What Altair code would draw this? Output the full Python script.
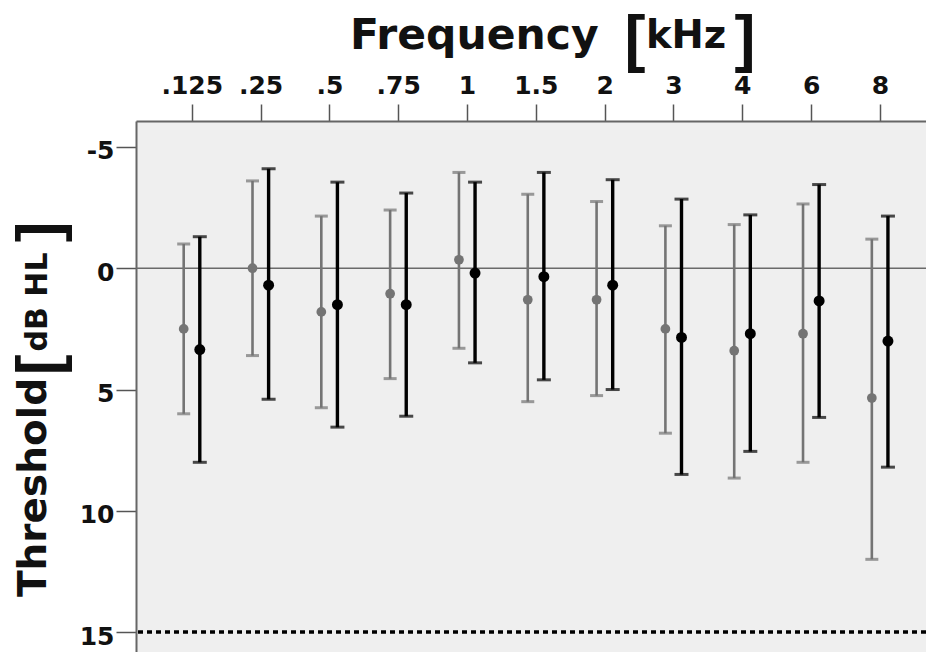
import json

import altair as alt
import pandas as pd

# Test frequencies (kHz) as printed on the axis
freq_labels = [".125", ".25", ".5", ".75", "1", "1.5", "2", "3", "4", "6", "8"]

# Group A (grey): mean threshold and error-bar limits, dB HL
group_a_mean = [2.5, 0.0, 1.8, 1.05, -0.35, 1.3, 1.3, 2.5, 3.4, 2.7, 5.35]
group_a_low = [-1.0, -3.6, -2.15, -2.4, -3.95, -3.05, -2.75, -1.75, -1.8, -2.65, -1.2]
group_a_high = [6.0, 3.6, 5.75, 4.55, 3.3, 5.5, 5.25, 6.8, 8.65, 8.0, 12.0]

# Group B (black)
group_b_mean = [3.35, 0.7, 1.5, 1.5, 0.2, 0.35, 0.7, 2.85, 2.7, 1.35, 3.0]
group_b_low = [-1.3, -4.1, -3.55, -3.1, -3.55, -3.95, -3.65, -2.85, -2.2, -3.45, -2.15]
group_b_high = [8.0, 5.4, 6.55, 6.1, 3.9, 4.6, 5.0, 8.5, 7.55, 6.15, 8.2]

# Reference lines
zero_line = [0]
limit_line = [15]

FONT = "DejaVu Sans"
AXIS_GREY = "#666666"

x_scale = alt.Scale(domain=[-0.81, 10.67], nice=False, zero=False)
y_scale = alt.Scale(domain=[-6.07, 15.82], nice=False, zero=False, reverse=True)

x_axis = alt.Axis(
    orient="top", values=list(range(len(freq_labels))),
    labelExpr=json.dumps(freq_labels) + "[datum.value]",
    title=None, grid=False, tickSize=17, tickWidth=1.5, tickColor="#555555",
    domainColor=AXIS_GREY, domainWidth=2, labelFont=FONT, labelFontWeight="bold",
    labelFontSize=25, labelColor="#111111", labelBaseline="alphabetic",
    labelPadding=11, labelFlush=False,
)
y_axis = alt.Axis(
    orient="left", values=[-5, 0, 5, 10, 15], labelExpr="'' + datum.value",
    title=None, grid=False,
    tickSize=20, tickWidth=1.5, tickColor="#555555", domainColor=AXIS_GREY,
    domainWidth=2, labelFont=FONT, labelFontWeight="bold", labelFontSize=25,
    labelColor="#111111", labelBaseline="alphabetic", labelOffset=12,
    labelPadding=2, labelFlush=False,
)


def group_layers(mean, low, high, shift, color, bar_width, cap_width, dot_size):
    """Error bar, caps and mean marker for one group, nudged sideways by `shift`."""
    data = pd.DataFrame({"idx": list(range(len(freq_labels))),
                         "mean": mean, "lo": low, "hi": high})
    base = alt.Chart(data).transform_calculate(xpos=f"datum.idx + ({shift})")
    x_enc = alt.X("xpos:Q", scale=x_scale, axis=x_axis)
    bar = base.mark_rule(color=color, strokeWidth=bar_width).encode(
        x=x_enc, y=alt.Y("lo:Q", scale=y_scale, axis=y_axis), y2="hi:Q")
    cap_lo = base.mark_tick(orient="horizontal", thickness=3, size=cap_width, color=color).encode(
        x=x_enc, y=alt.Y("lo:Q", scale=y_scale, axis=y_axis))
    cap_hi = base.mark_tick(orient="horizontal", thickness=3, size=cap_width, color=color).encode(
        x=x_enc, y=alt.Y("hi:Q", scale=y_scale, axis=y_axis))
    dot = base.mark_point(filled=True, opacity=1, size=dot_size, color=color).encode(
        x=x_enc, y=alt.Y("mean:Q", scale=y_scale, axis=y_axis))
    return [bar, cap_lo, cap_hi, dot]


grey_group = group_layers(group_a_mean, group_a_low, group_a_high, -0.117,
                          "#747474", 2.6, 13, 95)
black_group = group_layers(group_b_mean, group_b_low, group_b_high, 0.117,
                           "#000000", 3.4, 14, 120)

zero_rule = alt.Chart(pd.DataFrame({"v": zero_line})).mark_rule(
    color="#6a6a6a", strokeWidth=1.5
).encode(y=alt.Y("v:Q", scale=y_scale, axis=y_axis))

limit_rule = alt.Chart(pd.DataFrame({"v": limit_line})).mark_rule(
    color="#000000", strokeWidth=3.5, strokeDash=[5, 4]
).encode(y=alt.Y("v:Q", scale=y_scale, axis=y_axis))


def label(text, x, y, size, font=FONT, align="left", angle=0):
    mark = dict(font=font, fontWeight="bold", fontSize=size, align=align,
                baseline="alphabetic", color="#111111")
    if angle:
        mark["angle"] = angle
    return alt.Chart(pd.DataFrame({"t": [text]})).mark_text(**mark).encode(
        text="t:N", x=alt.value(x), y=alt.value(y))


titles = [
    label("Frequency", 214, -72, 42.5),
    label("[", 499, -61, 63, font="Liberation Sans", align="center"),
    label("kHz", 510, -73, 38.5),
    label("]", 609, -61, 63, font="Liberation Sans", align="center"),
    label("Threshold", -90, 476, 39, angle=270),
    label("[", -77, 244, 62, font="Liberation Sans", align="center", angle=270),
    label("dB HL", -89, 181, 30, align="center", angle=270),
    label("]", -77, 111, 62, font="Liberation Sans", align="center", angle=270),
]

chart = alt.layer(
    zero_rule, limit_rule, *grey_group, *black_group, *titles
).properties(
    width=790, height=531,
    autosize=alt.AutoSizeParams(type="none"),
    padding={"left": 136, "top": 121, "right": 0, "bottom": 0},
    background="white",
).configure_view(fill="#efefef", stroke=None)

chart.save("out.html", embed_options={"renderer": "svg", "actions": False})
